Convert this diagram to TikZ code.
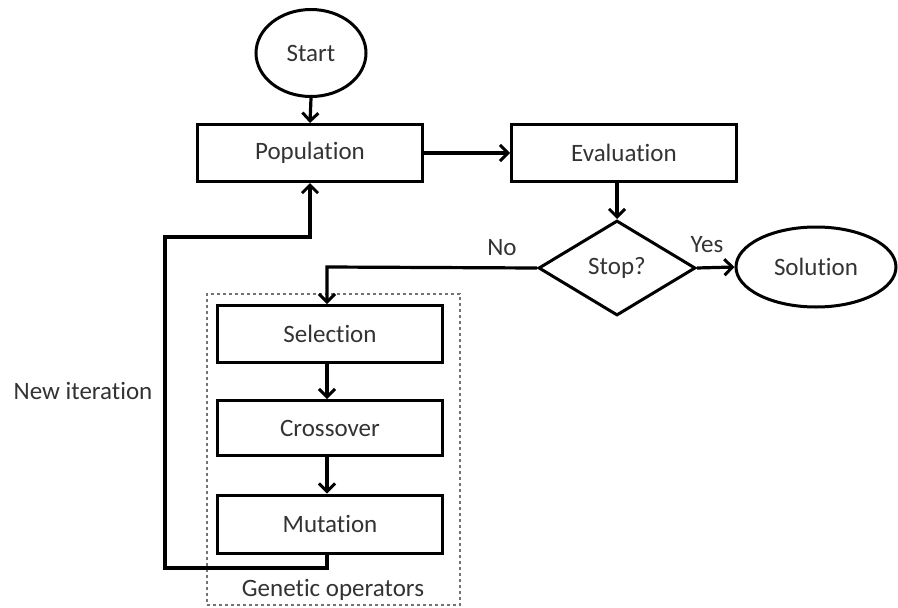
\documentclass[tikz,border=0pt]{standalone}
\usepackage{fontspec}
\setmainfont{Carlito}[Ligatures=NoCommon]
\usetikzlibrary{shapes.geometric,arrows.meta}
\begin{document}
\begin{tikzpicture}[x=1pt,y=-1pt,
  font=\fontsize{25}{28}\selectfont,
  every node/.style={text=black!80},
  procbox/.style={draw=black,line width=3pt,minimum width=225pt,minimum height=57pt,inner sep=0pt},
  term/.style={draw=black,ellipse,line width=3pt,inner sep=0pt},
  flow/.style={draw=black,line width=3.2pt,-{Straight Barb[length=8pt,width=16pt,line width=3pt]}},
  lbl/.style={inner sep=0pt}]
\useasboundingbox (0,0) rectangle (898,608);
\node[term,minimum width=110pt,minimum height=87pt] (start) at (311,53) {Start};
\node[procbox] (pop) at (310,153) {Population};
\node[procbox] (eval) at (624,153) {Evaluation};
\node[draw=black,diamond,aspect=1.65,line width=3pt,minimum width=157pt,minimum height=95pt,inner sep=0pt] (stop) at (617,268) {Stop?};
\node[term,minimum width=160pt,minimum height=80pt] (sol) at (816,267) {Solution};
\node[draw=black!55,dash pattern=on 3pt off 3pt,line width=1.5pt,minimum width=253pt,minimum height=311pt,inner sep=0pt] (gop) at (333.5,449.5) {};
\node[procbox] (sel) at (330,334) {Selection};
\node[procbox,minimum height=55pt] (cross) at (330,428) {Crossover};
\node[procbox,minimum height=58pt] (mut) at (330,524) {Mutation};
\node[lbl] (gtxt) at (333,590) {Genetic operators};
\node[lbl] (newit) at (83,391) {New iteration};
\node[lbl] (no) at (502,248) {No};
\node[lbl] (yes) at (707,245) {Yes};
\coordinate (nocorner) at (327,267);
\coordinate (b1) at (327,568);
\coordinate (b2) at (165,568);
\coordinate (b3) at (165,237);
\coordinate (b4) at (310,237);
\draw[flow] (start.south) -- (pop.north);
\draw[flow] (pop.east) -- (eval.west);
\draw[flow] (eval.south -| stop.north) -- (stop.north);
\draw[flow] (stop.east) -- (sol.west);
\draw[flow] (stop.west) -- (nocorner) -- (sel.north -| nocorner);
\draw[flow] (sel.south -| nocorner) -- (cross.north -| nocorner);
\draw[flow] (cross.south -| nocorner) -- (mut.north -| nocorner);
\draw[flow] (mut.south -| b1) -- (b1) -- (b2) -- (b3) -- (b4) -- (pop.south -| b4);
\end{tikzpicture}
\end{document}
